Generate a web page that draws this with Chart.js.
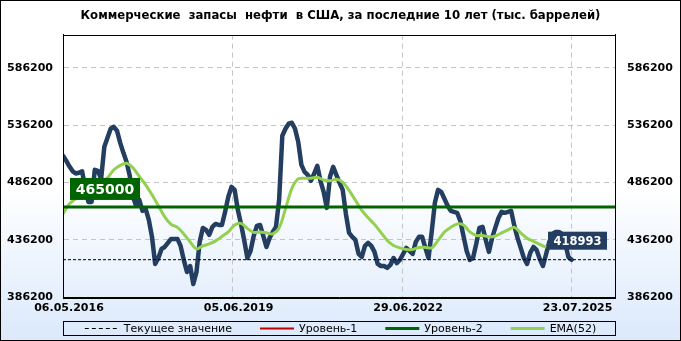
<!DOCTYPE html>
<html>
<head>
<meta charset="utf-8">
<script src="https://cdn.jsdelivr.net/npm/chart.js@4.4.1/dist/chart.umd.min.js"></script>
<style>
  html, body { margin: 0; padding: 0; background: #fff; }
  canvas { display: block; }
</style>
</head>
<body>
<canvas id="graficaZapasos" width="681" height="341"></canvas>
<script>
var colorSerie = "#233e60";
var colorEma = "#92d050";
var colorNivel1 = "#c00000";
var colorNivel2 = "#006400";
var fuenteEjes = '"DejaVu Sans", sans-serif';

var titulo = "Коммерческие  запасы  нефти  в США, за последние 10 лет (тыс. баррелей)";

// semanas desde 06.05.2016 donde van las fechas del eje
var semanasEtiquetas = [0, 160, 320, 480];
var fechasEtiquetas = ["06.05.2016", "05.06.2019", "29.06.2022", "23.07.2025"];
var ticksY = [386200, 436200, 486200, 536200, 586200];

var pasoSerie = 3; // un valor cada 3 semanas
var zapasos = [
  509600, 505300, 500450, 496250, 494200, 494800, 496100, 481700, 469400, 469400,
  497400, 496500, 489500, 517500, 525300, 533200, 534900, 531400, 520900, 512200,
  504300, 492100, 473800, 466000, 471200, 461600, 463300, 453700, 438900, 415300,
  420500, 428400, 430100, 433600, 437100, 437100, 437100, 431000, 418800, 408300,
  413500, 397800, 408300, 434500, 446700, 445000, 440600, 447600, 450200, 449300,
  449300, 460700, 473800, 482500, 479900, 462500, 450200, 436200, 420500, 426600,
  439700, 448500, 449300, 439700, 430100, 438000, 443200, 447600, 471200, 527100,
  533200, 537600, 538400, 533200, 521800, 501700, 495600, 493000, 487800, 493900,
  500900, 487800, 478200, 464200, 491300, 500000, 493000, 486000, 479900, 459000,
  442400, 438900, 436200, 424000, 421400, 431000, 433600, 431000, 425800, 415300,
  413500, 413500, 411800, 414400, 420500, 416100, 418800, 424000, 429300, 426600,
  424000, 434500, 438900, 438900, 429300, 420500, 443300, 468600, 479900, 478200,
  472100, 466000, 461600, 460700, 459900, 452900, 439700, 426600, 418800, 420500,
  432700, 446700, 447600, 436200, 425800, 438000, 446700, 455400, 460700, 459900,
  460700, 461600, 448500, 438000, 429300, 420500, 415300, 424900, 430100, 427500,
  419600, 413500, 424000, 434500, 441500, 443200, 443200, 441500, 433600, 421400,
  418993
];

var pasoEma = 6; // un valor cada 6 semanas
var ema52 = [
  459000, 467700, 472100, 476400, 479900, 483400, 486900, 490400, 497400, 501300,
  503100, 499100, 491700, 484300, 475600, 466000, 456400, 449800, 447200, 441500,
  434500, 428400, 431000, 432700, 435400, 439300, 443200, 449300, 450700, 446300,
  442800, 443200, 442400, 441500, 446700, 463300, 481200, 489500, 490100, 490100,
  490800, 488500, 487800, 489100, 486500, 479500, 470800, 462000, 455500, 449800,
  442800, 435800, 431400, 429300, 427900, 427900, 429700, 429700, 429300, 435800,
  443200, 447200, 450200, 449300, 443200, 440100, 440100, 438900, 439700, 442400,
  445000, 447200, 442400, 437600, 435000, 432300, 429700
];

var valorActual = 418993;
var nivel2 = 465000;
var semanaMax = 521;
var yMin = 386200;
var yMax = 615300;

var puntosSerie = zapasos.map(function(v, i) { return { x: i * pasoSerie, y: v }; });
var puntosEma = ema52.map(function(v, i) { return { x: i * pasoEma, y: v }; });

var datosGrafica = {
  datasets: [{
    label: 'Текущее значение',
    enLeyenda: true,
    data: [{ x: 0, y: valorActual }, { x: semanaMax, y: valorActual }],
    borderColor: '#000',
    borderWidth: 1,
    borderDash: [3, 2],
    pointRadius: 0,
    order: 1
  }, {
    label: 'Уровень-1',
    enLeyenda: true,
    data: [],
    borderColor: colorNivel1,
    borderWidth: 2,
    pointRadius: 0,
    order: 2
  }, {
    label: 'Уровень-2',
    enLeyenda: true,
    data: [{ x: 0, y: nivel2 }, { x: semanaMax, y: nivel2 }],
    borderColor: colorNivel2,
    borderWidth: 3,
    pointRadius: 0,
    order: 2
  }, {
    label: 'EMA(52)',
    enLeyenda: true,
    data: puntosEma,
    borderColor: colorEma,
    borderWidth: 3,
    pointRadius: 0,
    tension: 0.3,
    order: 3
  }, {
    label: 'Запасы',
    data: puntosSerie,
    borderColor: colorSerie,
    borderWidth: 4.5,
    borderJoinStyle: 'round',
    borderCapStyle: 'round',
    pointRadius: 0,
    order: 4
  }]
};

// fondo degradado y marcos
var fondoPlugin = {
  id: 'fondo',
  beforeDraw: function(chart) {
    var ctx = chart.ctx;
    var g = ctx.createLinearGradient(0, 0, 0, chart.height);
    g.addColorStop(0, '#ffffff');
    g.addColorStop(0.55, '#ffffff');
    g.addColorStop(1, '#dbe9fb');
    ctx.save();
    ctx.fillStyle = g;
    ctx.fillRect(0, 0, chart.width, chart.height);
    ctx.restore();
  },
  afterDraw: function(chart) {
    var a = chart.chartArea, ctx = chart.ctx;
    ctx.save();
    ctx.strokeStyle = '#000';
    ctx.lineWidth = 1;
    ctx.strokeRect(Math.round(a.left) + 0.5, Math.round(a.top) + 0.5, Math.round(a.right - a.left), Math.round(a.bottom - a.top));
    ctx.strokeRect(0.5, 0.5, chart.width - 1, chart.height - 1);
    ctx.restore();
  }
};

function etiqueta(ctx, texto, x, y, w, h, fondo, fuente) {
  ctx.fillStyle = fondo;
  ctx.fillRect(x, y, w, h);
  ctx.fillStyle = '#fff';
  ctx.font = fuente;
  ctx.textAlign = 'center';
  ctx.textBaseline = 'middle';
  ctx.fillText(texto, x + w / 2, y + h / 2 + 1);
}

var etiquetasPlugin = {
  id: 'etiquetas',
  afterDatasetsDraw: function(chart) {
    var ctx = chart.ctx, a = chart.chartArea, ys = chart.scales.y;
    ctx.save();
    var yN = ys.getPixelForValue(nivel2);
    etiqueta(ctx, String(nivel2), a.left + 7, yN - 29, 70, 22, colorNivel2, 'bold 14px "DejaVu Sans"');
    var yA = ys.getPixelForValue(valorActual);
    etiqueta(ctx, String(valorActual), a.right - 67, yA - 28, 59, 18, colorSerie, 'bold 11.5px "DejaVu Sans"');
    ctx.restore();
  }
};

var leyendaPlugin = {
  id: 'leyenda',
  afterDraw: function(chart) {
    var ctx = chart.ctx, a = chart.chartArea;
    var items = chart.data.datasets.filter(function(d) { return d.enLeyenda; });
    var muestra = 34, sep = 5, hueco = 28;
    ctx.save();
    ctx.font = '11px "DejaVu Sans"';
    var total = 0;
    items.forEach(function(d, i) {
      total += muestra + sep + ctx.measureText(d.label).width + (i ? hueco : 0);
    });
    var yTop = chart.height - 20, yMid = chart.height - 13;
    ctx.strokeStyle = '#000';
    ctx.lineWidth = 1;
    ctx.strokeRect(Math.round(a.left) + 0.5, yTop + 0.5, Math.round(a.right - a.left), 14);
    var x = chart.width / 2 - total / 2;
    items.forEach(function(d) {
      ctx.beginPath();
      ctx.strokeStyle = d.borderColor;
      ctx.lineWidth = d.borderWidth;
      ctx.setLineDash(d.borderDash ? [4, 3] : []);
      ctx.moveTo(x, yMid + 0.5);
      ctx.lineTo(x + muestra, yMid + 0.5);
      ctx.stroke();
      ctx.setLineDash([]);
      x += muestra + sep;
      ctx.fillStyle = '#000';
      ctx.textAlign = 'left';
      ctx.textBaseline = 'middle';
      ctx.fillText(d.label, x, yMid + 1);
      x += ctx.measureText(d.label).width + hueco;
    });
    ctx.restore();
  }
};

var ticksFijosY = function(scale) {
  scale.ticks = ticksY.map(function(v) { return { value: v }; });
};
var textoTickY = function(v) { return String(v); };

var configuracion = {
  type: 'line',
  data: datosGrafica,
  plugins: [fondoPlugin, etiquetasPlugin, leyendaPlugin],
  options: {
    responsive: false,
    animation: false,
    devicePixelRatio: 1,
    layout: { padding: { left: 0, right: 0, top: 0, bottom: 21.7 } },
    plugins: {
      legend: { display: false },
      tooltip: { enabled: false },
      title: {
        display: true,
        text: titulo,
        color: '#000',
        font: { family: '"DejaVu Sans Condensed", "Liberation Sans", sans-serif', size: 13, weight: 'bold' },
        padding: { top: 8, bottom: 11 }
      }
    },
    scales: {
      x: {
        type: 'linear',
        position: 'bottom',
        min: 0,
        max: semanaMax,
        afterBuildTicks: function(scale) {
          scale.ticks = semanasEtiquetas.map(function(v) { return { value: v }; });
        },
        afterFit: function(scale) { scale.height = 22; },
        ticks: {
          autoSkip: false,
          maxRotation: 0,
          padding: 4,
          labelOffset: 6,
          color: '#000',
          font: { family: fuenteEjes, size: 11, weight: 'bold' },
          callback: function(v) { return fechasEtiquetas[semanasEtiquetas.indexOf(v)]; }
        },
        grid: { color: '#c4c4c4', drawTicks: false },
        border: { color: '#000', dash: [5, 4] }
      },
      y: {
        type: 'linear',
        position: 'left',
        min: yMin,
        max: yMax,
        afterBuildTicks: ticksFijosY,
        afterFit: function(scale) { scale.width = 63; },
        ticks: {
          padding: 10,
          color: '#000',
          font: { family: fuenteEjes, size: 11, weight: 'bold' },
          callback: textoTickY
        },
        grid: { color: '#c4c4c4', drawTicks: false },
        border: { color: '#000', dash: [5, 4] }
      },
      y2: {
        type: 'linear',
        position: 'right',
        min: yMin,
        max: yMax,
        afterBuildTicks: ticksFijosY,
        afterFit: function(scale) { scale.width = 66; },
        ticks: {
          padding: 12,
          color: '#000',
          font: { family: fuenteEjes, size: 11, weight: 'bold' },
          callback: textoTickY
        },
        grid: { display: false, drawTicks: false },
        border: { color: '#000' }
      }
    }
  }
};

var graficaZapasos = new Chart(document.getElementById('graficaZapasos'), configuracion);
</script>
</body>
</html>
